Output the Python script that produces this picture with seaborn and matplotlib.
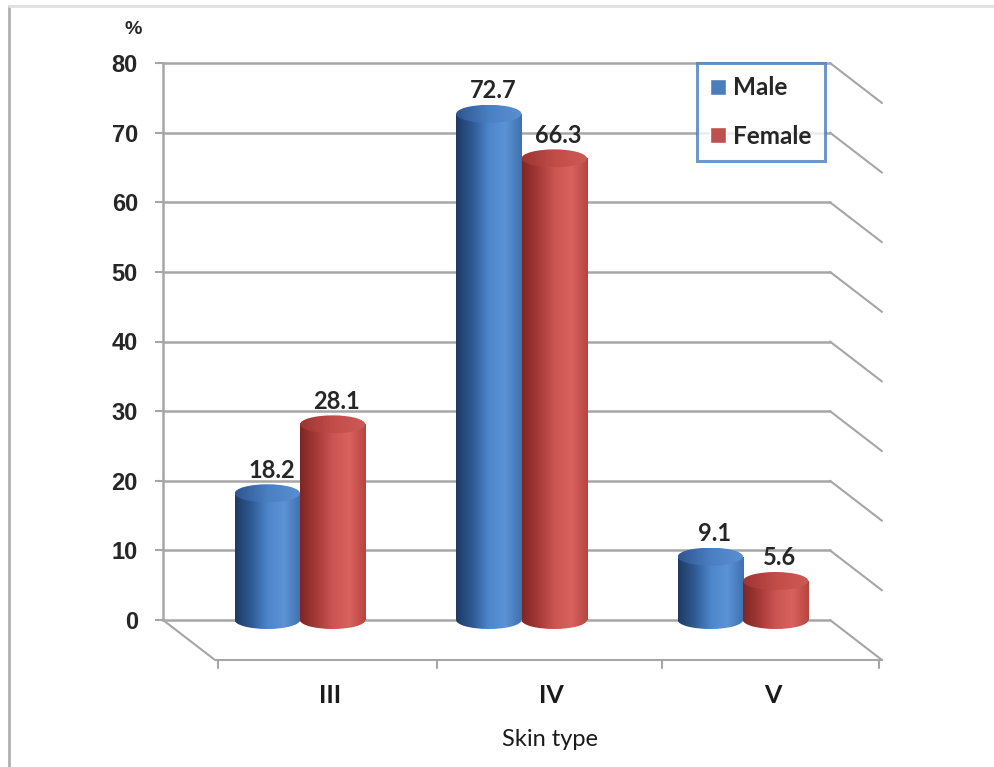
import numpy as np
import pandas as pd
import matplotlib
matplotlib.use("Agg")
import matplotlib.pyplot as plt
import seaborn as sns
from matplotlib.patches import Ellipse, Rectangle
from matplotlib.colors import LinearSegmentedColormap
from matplotlib.transforms import ScaledTranslation, blended_transform_factory
from matplotlib.lines import Line2D

# ---- data ----
skin_types = ["III", "IV", "V"]
series = ["Male", "Female"]
male = [18.2, 72.7, 9.1]
female = [28.1, 66.3, 5.6]
y_ticks = [0, 10, 20, 30, 40, 50, 60, 70, 80]

df = pd.DataFrame({
    "Skin type": skin_types * 2,
    "Sex": [series[0]] * len(skin_types) + [series[1]] * len(skin_types),
    "value": male + female,
})

sns.set_theme(style="white")
plt.rcParams["font.family"] = ["Liberation Sans", "DejaVu Sans"]

W, H = 994, 767
fig = plt.figure(figsize=(W / 100, H / 100), dpi=100)
ax_left, ax_right, ax_top, ax_bottom = 163, 882, 63, 660
ax = fig.add_axes([ax_left / W, (H - ax_bottom) / H,
                   (ax_right - ax_left) / W, (ax_bottom - ax_top) / H])

palette = {"Male": "#4A7EBB", "Female": "#C0504D"}
sns.barplot(data=df, x="Skin type", y="value", hue="Sex", palette=palette,
            width=0.59, saturation=1, ax=ax, zorder=3, legend=True)

# limits so that pixel geometry matches
px_per_x = 221.5
xl = -(300 - ax_left) / px_per_x
xr = 2 + (ax_right - 743) / px_per_x
ymax = 80
px_per_y = (620 - ax_top) / 80.0
ymin = -(ax_bottom - 620) / px_per_y
ax.set_xlim(xl, xr)
ax.set_ylim(ymin, ymax)

grey = "#A6A6A6"
# gridlines and right wall diagonals
xf_grid = (830 - ax_left) / (ax_right - ax_left)
trans_b = blended_transform_factory(ax.transAxes, ax.transData)
dy = 40 / px_per_y
for v in y_ticks:
    ax.plot([0, xf_grid], [v, v], color=grey, lw=1.8, transform=trans_b, zorder=1, clip_on=False)
    ax.plot([xf_grid, 1.0], [v, v - dy], color=grey, lw=1.5, transform=trans_b, zorder=1, clip_on=False)
# floor
xf_floor = (215 - ax_left) / (ax_right - ax_left)
ax.plot([0, xf_floor, 1.0], [0, ymin, ymin], color=grey, lw=1.5, transform=trans_b, zorder=1, clip_on=False)
for px in [218, 437, 662, 879]:
    xf = (px - ax_left) / (ax_right - ax_left)
    ax.plot([xf, xf], [ymin, ymin - 8 / px_per_y], color=grey, lw=1.5,
            transform=trans_b, zorder=1, clip_on=False)

# cylinder shading
cmaps = {
    "Male": LinearSegmentedColormap.from_list("m", ["#1E3A63", "#2F5A94", "#4D86CC", "#5B93D6", "#3F70AE"]),
    "Female": LinearSegmentedColormap.from_list("f", ["#7E2624", "#A63A37", "#CC5552", "#D8625E", "#B8443F"]),
}
cap_cmaps = {
    "Male": LinearSegmentedColormap.from_list("mc", ["#2E5690", "#4A7FC2", "#5A8FD2"]),
    "Female": LinearSegmentedColormap.from_list("fc", ["#9C3532", "#C24C48", "#CE5A56"]),
}
cap_h = 18 / px_per_y
grad = np.linspace(0, 1, 256).reshape(1, -1)
for container, name in zip(ax.containers, series):
    vals = male if name == "Male" else female
    for bar, v in zip(container, vals):
        x0, w, h = bar.get_x(), bar.get_width(), bar.get_height()
        cx = x0 + w / 2
        bar.set_facecolor("none")
        bar.set_edgecolor("none")
        im = ax.imshow(grad, extent=[x0, x0 + w, 0, h], aspect="auto",
                       cmap=cmaps[name], zorder=3, interpolation="bilinear")
        im.set_clip_path(bar)
        bottom = Ellipse((cx, 0), w, cap_h, facecolor="none", edgecolor="none", zorder=3)
        ax.add_patch(bottom)
        im2 = ax.imshow(grad, extent=[x0, x0 + w, -cap_h / 2, cap_h / 2], aspect="auto",
                        cmap=cmaps[name], zorder=3, interpolation="bilinear")
        im2.set_clip_path(bottom)
        top = Ellipse((cx, h), w, cap_h, facecolor="none", edgecolor="none", zorder=4)
        ax.add_patch(top)
        im3 = ax.imshow(grad, extent=[x0, x0 + w, h - cap_h / 2, h + cap_h / 2], aspect="auto",
                        cmap=cap_cmaps[name], zorder=4, interpolation="bilinear")
        im3.set_clip_path(top)
        ax.annotate(f"{v}", (cx, h + cap_h / 2), xytext=(3, 2), textcoords="offset points",
                    ha="center", va="bottom", fontsize=17, fontweight="bold",
                    color="#262626", family=["Lato", "DejaVu Sans"], zorder=6)

ax.set_xlim(xl, xr)
ax.set_ylim(ymin, ymax)

# axes styling
for s in ["top", "right", "bottom"]:
    ax.spines[s].set_visible(False)
ax.spines["left"].set_bounds(0, 80)
ax.spines["left"].set_color(grey)
ax.spines["left"].set_linewidth(1.8)
ax.set_yticks(y_ticks)
ax.set_yticklabels([str(t) for t in y_ticks])
ax.tick_params(axis="y", length=6, width=1.5, color=grey, direction="out", pad=12,
               labelsize=17, left=True)
for lab in ax.get_yticklabels():
    lab.set_fontweight("bold")
    lab.set_color("#262626")
ax.set_ylabel("")
ax.tick_params(axis="x", length=0, pad=17, labelsize=18)
for lab in ax.get_xticklabels():
    lab.set_fontweight("bold")
    lab.set_family(["Lato", "DejaVu Sans"])
    lab.set_color("#1a1a1a")
    lab.set_transform(lab.get_transform() + ScaledTranslation(0.30, 0, fig.dpi_scale_trans))
ax.set_xlabel("Skin type", fontsize=17, family=["Lato", "DejaVu Sans"], color="#1a1a1a", labelpad=16)
ax.xaxis.label.set_transform(ax.xaxis.label.get_transform() + ScaledTranslation(0.28, 0, fig.dpi_scale_trans))

fig.text(133 / W, 1 - 30 / H, "%", ha="center", va="center", fontsize=14,
         fontweight="bold", color="#262626")

# legend
handles = [Rectangle((0, 0), 1, 1, facecolor=palette[s]) for s in series]
leg = ax.legend(handles, series, loc="upper left",
                bbox_to_anchor=(697 / W, 1 - 63 / H), bbox_transform=fig.transFigure,
                borderaxespad=0, frameon=True, fancybox=False,
                handlelength=0.65, handleheight=0.65, handletextpad=0.3,
                labelspacing=1.05, borderpad=0.55,
                prop={"family": ["Lato", "DejaVu Sans"], "weight": "bold", "size": 17.5})
leg.get_frame().set_edgecolor("#4A7EBB")
leg.get_frame().set_linewidth(2.2)
for t in leg.get_texts():
    t.set_color("#262626")
leg.set_zorder(10)

# figure frame lines
fig.add_artist(Line2D([9 / W, 9 / W], [0, 1 - 6 / H], transform=fig.transFigure, color="#B0B0B0", lw=2))
fig.add_artist(Line2D([9 / W, 1], [1 - 6 / H, 1 - 6 / H], transform=fig.transFigure, color="#E0E0E0", lw=2))

fig.savefig("out.png", dpi=100)
